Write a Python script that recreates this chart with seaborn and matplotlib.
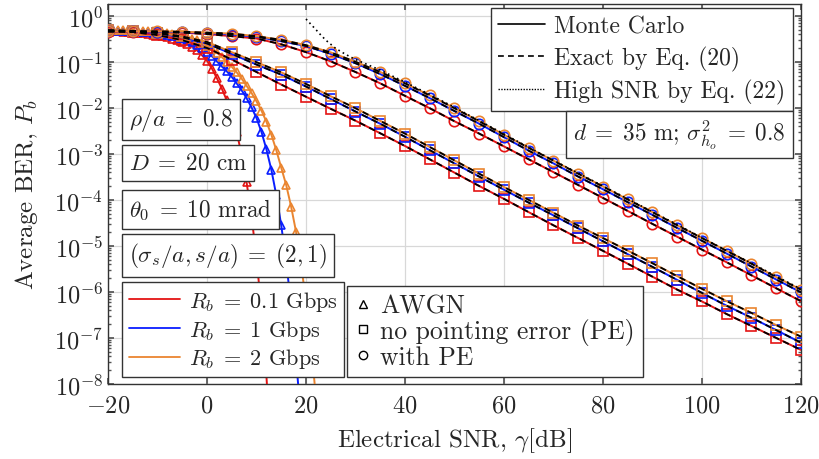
import numpy as np
import pandas as pd
import seaborn as sns
import matplotlib.pyplot as plt
from matplotlib.lines import Line2D
from matplotlib.ticker import LogLocator, NullFormatter

# ---- data ----
# AWGN curves (1 dB grid)
snr_awgn_01 = list(range(-20, 14))
ber_awgn_01 = [4.7e-1, 4.6e-1, 4.6e-1, 4.5e-1, 4.4e-1, 4.4e-1, 4.3e-1, 4.2e-1, 4.1e-1, 3.9e-1,
               3.8e-1, 3.6e-1, 3.5e-1, 3.2e-1, 3.0e-1, 2.75e-1, 2.45e-1, 2.14e-1, 1.78e-1, 1.38e-1,
               1.05e-1, 7.1e-2, 4.4e-2, 2.6e-2, 1.45e-2, 7.1e-3, 2.95e-3, 9.5e-4, 2.4e-4, 4.4e-5,
               5.4e-6, 4.1e-7, 1.5e-8, 3e-10]

snr_awgn_1 = list(range(-20, 20))
ber_awgn_1 = [4.8e-1, 4.8e-1, 4.7e-1, 4.7e-1, 4.6e-1, 4.6e-1, 4.5e-1, 4.5e-1, 4.4e-1, 4.3e-1,
              4.2e-1, 4.1e-1, 3.9e-1, 3.7e-1, 3.55e-1, 3.3e-1, 3.0e-1, 2.7e-1, 2.35e-1, 2.0e-1,
              1.66e-1, 1.32e-1, 1.02e-1, 7.9e-2, 6.2e-2, 4.7e-2, 3.4e-2, 2.4e-2, 1.62e-2, 1.02e-2,
              6.0e-3, 3.0e-3, 1.26e-3, 4.5e-4, 1.26e-4, 2.8e-5, 4.5e-6, 5.0e-7, 3.5e-8, 1.6e-9]

snr_awgn_2 = list(range(-20, 23))
ber_awgn_2 = [4.9e-1, 4.9e-1, 4.85e-1, 4.8e-1, 4.8e-1, 4.75e-1, 4.7e-1, 4.7e-1, 4.6e-1, 4.6e-1,
              4.5e-1, 4.4e-1, 4.3e-1, 4.1e-1, 3.9e-1, 3.7e-1, 3.5e-1, 3.2e-1, 2.9e-1, 2.6e-1,
              2.24e-1, 1.9e-1, 1.58e-1, 1.26e-1, 1.0e-1, 7.8e-2, 5.9e-2, 4.3e-2, 3.0e-2, 2.1e-2,
              1.38e-2, 8.7e-3, 5.0e-3, 2.6e-3, 1.2e-3, 5.0e-4, 2.1e-4, 7.1e-5, 2.0e-5, 4.0e-6,
              6.3e-7, 7.9e-8, 5.0e-9]

# fading channel curves (5 dB grid)
snr_fade = list(range(-20, 121, 5))
ber_nope_01 = [4.7e-1, 4.4e-1, 3.8e-1, 2.95e-1, 2.0e-1, 1.12e-1, 6.0e-2, 3.2e-2, 1.74e-2, 9.5e-3,
               5.25e-3, 2.8e-3, 1.48e-3, 7.6e-4, 3.9e-4, 2.0e-4, 1.05e-4, 5.4e-5, 2.8e-5, 1.48e-5,
               7.8e-6, 4.1e-6, 2.14e-6, 1.12e-6, 6.2e-7, 3.3e-7, 1.82e-7, 1.0e-7, 5.5e-8]
ber_nope_1 = [4.8e-1, 4.6e-1, 4.2e-1, 3.4e-1, 2.5e-1, 1.48e-1, 8.7e-2, 5.25e-2, 2.9e-2, 1.55e-2,
              8.3e-3, 4.5e-3, 2.35e-3, 1.2e-3, 6.2e-4, 3.2e-4, 1.66e-4, 8.7e-5, 4.6e-5, 2.4e-5,
              1.26e-5, 6.6e-6, 3.5e-6, 1.82e-6, 9.5e-7, 5.0e-7, 2.75e-7, 1.48e-7, 7.9e-8]
ber_nope_2 = [4.9e-1, 4.7e-1, 4.3e-1, 3.55e-1, 2.7e-1, 1.62e-1, 9.8e-2, 5.9e-2, 3.3e-2, 1.78e-2,
              9.8e-3, 5.2e-3, 2.75e-3, 1.41e-3, 7.2e-4, 3.7e-4, 1.9e-4, 1.0e-4, 5.25e-5, 2.75e-5,
              1.48e-5, 7.9e-6, 4.2e-6, 2.2e-6, 1.17e-6, 6.3e-7, 3.5e-7, 1.9e-7, 1.07e-7]
ber_pe_01 = [4.5e-1, 4.5e-1, 4.4e-1, 4.3e-1, 4.0e-1, 3.6e-1, 3.2e-1, 2.4e-1, 1.62e-1, 1.02e-1,
             6.0e-2, 3.4e-2, 1.82e-2, 9.8e-3, 5.1e-3, 2.75e-3, 1.45e-3, 7.6e-4, 4.0e-4, 2.1e-4,
             1.1e-4, 5.75e-5, 3.0e-5, 1.58e-5, 8.3e-6, 4.4e-6, 2.3e-6, 1.2e-6, 6.3e-7]
ber_pe_1 = [4.6e-1, 4.6e-1, 4.5e-1, 4.4e-1, 4.2e-1, 3.9e-1, 3.5e-1, 2.8e-1, 2.2e-1, 1.48e-1,
            9.3e-2, 5.4e-2, 3.0e-2, 1.62e-2, 8.5e-3, 4.5e-3, 2.3e-3, 1.17e-3, 6.2e-4, 3.2e-4,
            1.7e-4, 8.9e-5, 4.7e-5, 2.45e-5, 1.29e-5, 6.8e-6, 3.55e-6, 1.86e-6, 9.8e-7]
ber_pe_2 = [4.6e-1, 4.6e-1, 4.6e-1, 4.5e-1, 4.3e-1, 4.1e-1, 3.6e-1, 3.0e-1, 2.3e-1, 1.6e-1,
            1.0e-1, 6.0e-2, 3.4e-2, 1.86e-2, 9.8e-3, 5.1e-3, 2.6e-3, 1.35e-3, 7.1e-4, 3.7e-4,
            1.95e-4, 1.02e-4, 5.4e-5, 2.8e-5, 1.48e-5, 7.8e-6, 4.1e-6, 2.1e-6, 1.12e-6]

# high SNR approximation
snr_high = [20, 21, 22, 23, 24, 25, 26, 28, 30, 35, 40, 45, 50, 55, 60, 65, 70, 75, 80, 85,
            90, 95, 100, 105, 110, 115, 120]
ber_high = [8.5e-1, 6.5e-1, 5.0e-1, 3.8e-1, 2.95e-1, 2.4e-1, 1.95e-1, 1.45e-1, 1.12e-1, 6.6e-2,
            3.6e-2, 1.95e-2, 1.02e-2, 5.25e-3, 2.7e-3, 1.38e-3, 7.2e-4, 3.8e-4, 2.0e-4, 1.05e-4,
            5.5e-5, 2.9e-5, 1.5e-5, 7.9e-6, 4.2e-6, 2.2e-6, 1.15e-6]

rate_labels = [r"$R_b\;=\;0.1$ Gbps", r"$R_b\;=\;1$ Gbps", r"$R_b\;=\;2$ Gbps"]
rate_colors = ["#e41414", "#0a1eff", "#ea8530"]

# ---- style ----
sns.set_theme(style="ticks")
plt.rcParams["font.family"] = "serif"
plt.rcParams["font.serif"] = ["cmr10", "DejaVu Serif"]
plt.rcParams["mathtext.fontset"] = "cm"
plt.rcParams["axes.formatter.use_mathtext"] = True
plt.rcParams["axes.unicode_minus"] = True

fig = plt.figure(figsize=(8.2, 4.6), dpi=100)
ax = fig.add_axes([108 / 820, 75 / 460, 693 / 820, 380 / 460])
ax.set_yscale("log")


def draw(x, y, color, marker, ms, cut=None):
    df = pd.DataFrame({"snr": x, "ber": y})
    mark = [cut is None or b >= cut for b in y]
    sns.lineplot(data=df, x="snr", y="ber", color=color, lw=1.4, marker=marker, ms=ms,
                 mfc="none", mec=color, mew=1.2, markevery=mark, errorbar=None, ax=ax, zorder=3)


def exact(x, y):
    df = pd.DataFrame({"snr": x, "ber": y})
    sns.lineplot(data=df, x="snr", y="ber", color="black", lw=1.3,
                 linestyle=(0, (3.5, 2.5)), errorbar=None, ax=ax, zorder=4)


awgn = [(snr_awgn_01, ber_awgn_01), (snr_awgn_1, ber_awgn_1), (snr_awgn_2, ber_awgn_2)]
nope = [ber_nope_01, ber_nope_1, ber_nope_2]
pe = [ber_pe_01, ber_pe_1, ber_pe_2]

for (x, y), c in zip(awgn, rate_colors):
    draw(x, y, c, "^", 6.2, cut=1.5e-5)
for y, c in zip(nope, rate_colors):
    draw(snr_fade, y, c, "s", 7.5)
for y, c in zip(pe, rate_colors):
    draw(snr_fade, y, c, "o", 7.5)
for y in nope + pe:
    exact(snr_fade, y)

sns.lineplot(x=snr_high, y=ber_high, color="black", lw=1.2, linestyle=(0, (1, 2)),
             errorbar=None, ax=ax, zorder=4)

# ---- axes ----
ax.set_xlim(-20, 120)
ax.set_ylim(1e-8, 1.8)
ax.set_xticks(range(-20, 121, 20))
ax.set_yticks([10.0 ** k for k in range(-8, 1)])
ax.yaxis.set_minor_locator(LogLocator(base=10, subs=np.arange(2, 10), numticks=20))
ax.yaxis.set_minor_formatter(NullFormatter())
ax.grid(True, which="major", color="#d8d8d8", lw=0.9)
ax.tick_params(which="both", direction="in", top=True, right=True, labelsize=17.5, color="#555555")
ax.tick_params(which="major", length=4)
ax.tick_params(which="minor", length=2.5)
ax.tick_params(axis="x", pad=7.5)
for s in ax.spines.values():
    s.set_color("#333333")
    s.set_linewidth(1.0)
ax.set_xlabel(r"Electrical SNR, $\gamma$[dB]", fontsize=18, labelpad=6)
ax.set_ylabel(r"Average BER, $P_b$", fontsize=18, labelpad=10)

# ---- annotations ----
box = dict(boxstyle="square,pad=0.3", fc="white", ec="#333333", lw=1.0)
notes = [(r"$\rho/a\;=\;0.8$", 0.697), (r"$D\;=\;20$ cm", 0.582),
         (r"$\theta_0\;=\;10$ mrad", 0.46), (r"$(\sigma_s/a, s/a)\;=\;(2, 1)$", 0.337)]
for txt, yy in notes:
    ax.text(0.03, yy, txt, transform=ax.transAxes, fontsize=16.7, ha="left", va="center",
            bbox=box, zorder=6)
ax.text(0.978, 0.657, r"$d\;=\;35$ m; $\sigma^2_{h_o}\;=\;0.8$", transform=ax.transAxes,
        fontsize=16.7, ha="right", va="center", bbox=box, zorder=6)

leg_kw = dict(fancybox=False, framealpha=1, edgecolor="#333333",
              borderaxespad=0, borderpad=0.3, handletextpad=0.4)

style_handles = [Line2D([], [], color="black", lw=1.2, ls="-"),
                 Line2D([], [], color="black", lw=1.2, ls=(0, (3.5, 2.5))),
                 Line2D([], [], color="black", lw=1.0, ls=(0, (1, 1)))]
leg1 = ax.legend(style_handles, ["Monte Carlo", "Exact by Eq. (20)", "High SNR by Eq. (22)"],
                 loc="upper right", bbox_to_anchor=(0.988, 0.989), handlelength=2.0,
                 fontsize=17, labelspacing=0.35, **leg_kw)
ax.add_artist(leg1)

rate_handles = [Line2D([], [], color=c, lw=1.3) for c in rate_colors]
leg2 = ax.legend(rate_handles, rate_labels, loc="lower left", bbox_to_anchor=(0.02, 0.018),
                 handlelength=2.3, fontsize=16, labelspacing=0.22, **leg_kw)
ax.add_artist(leg2)

marker_handles = [Line2D([], [], color="black", ls="none", marker=m, ms=6, mfc="none", mew=1.0)
                  for m in ["^", "s", "o"]]
ax.legend(marker_handles, ["AWGN", "no pointing error (PE)", "with PE"], loc="lower left",
          bbox_to_anchor=(0.345, 0.018), handlelength=0.6, fontsize=18.5, labelspacing=0.02,
          **leg_kw)

plt.savefig("out.png", dpi=100)
